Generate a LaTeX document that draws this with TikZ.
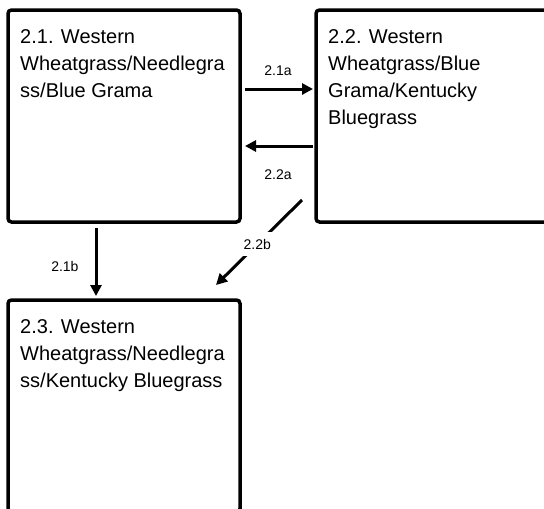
\documentclass[tikz,border=0pt]{standalone}
\usepackage{fontspec}
\setmainfont{Liberation Sans}
\usetikzlibrary{arrows.meta,positioning}

\begin{document}
\begin{tikzpicture}[x=1pt, y=-1pt,
    statebox/.style={draw, line width=3.5pt, rounded corners=3.5pt, minimum width=232pt, minimum height=212pt, inner sep=0pt, outer sep=0pt},
    boxtext/.style={anchor=north west, align=left, inner sep=0pt, font=\fontsize{20}{27}\selectfont},
    trans/.style={-{Triangle[length=11pt, width=11pt]}, line width=3pt},
    translabel/.style={font=\fontsize{14}{16}\selectfont, inner sep=2pt}
  ]
    \useasboundingbox (0,0) rectangle (544,509);
    \clip (0,0) rectangle (544,509);

    % state boxes
    \node[statebox] (s21) at (124,116) {};
    \node[statebox, right=76pt of s21] (s22) {};
    \node[statebox, below=78pt of s21] (s23) {};

    \node[boxtext] (t21) at ([shift={(12,19)}]s21.north west) {2.1. Western\\Wheatgrass/Needlegra\\ss/Blue Grama};
    \node[boxtext] (t22) at ([shift={(12,19)}]s22.north west) {2.2. Western\\Wheatgrass/Blue\\Grama/Kentucky\\Bluegrass};
    \node[boxtext] (t23) at ([shift={(12,19)}]s23.north west) {2.3. Western\\Wheatgrass/Needlegra\\ss/Kentucky Bluegrass};

    % transitions
    \draw[trans, shorten <=5pt, shorten >=3pt] ([shift={(0,-27)}]s21.east) -- ([shift={(0,-27)}]s22.west)
      node[translabel, midway, above=10pt] (l21a) {2.1a};
    \draw[trans, shorten <=3pt, shorten >=5pt] ([shift={(0,30)}]s22.west) -- ([shift={(0,30)}]s21.east)
      node[translabel, midway, below=20pt] (l22a) {2.2a};
    \draw[trans, shorten <=6pt, shorten >=4pt] ([shift={(-28,0)}]s21.south) -- ([shift={(-28,0)}]s23.north)
      node[translabel, pos=0.57, left=14pt] (l21b) {2.1b};
    \draw[trans] ([shift={(-14,-22)}]s22.south west) -- ([shift={(-24,-15)}]s23.north east)
      node[translabel, pos=0.52, fill=white, inner sep=7pt] (l22b) {2.2b};
\end{tikzpicture}
\end{document}
